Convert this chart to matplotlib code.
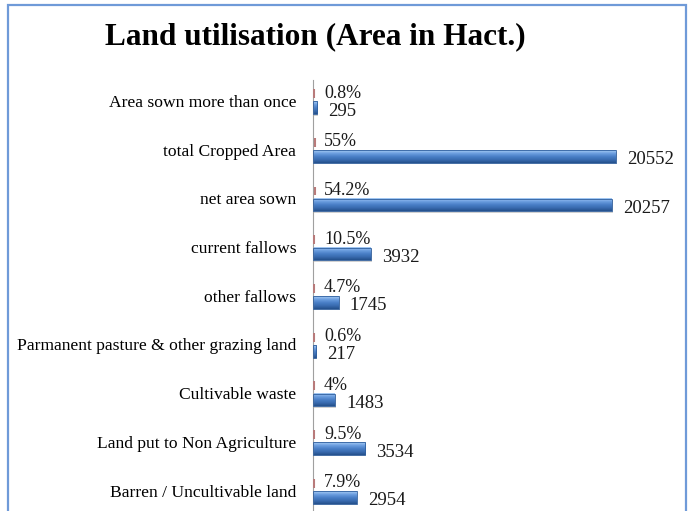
import matplotlib
matplotlib.use('Agg')
import numpy as np
import matplotlib.pyplot as plt
from matplotlib.patches import Rectangle
from matplotlib.colors import LinearSegmentedColormap

categories = ['Area sown more than once', 'total Cropped Area', 'net area sown',
              'current fallows', 'other fallows',
              'Parmanent pasture & other grazing land', 'Cultivable waste',
              'Land put to Non Agriculture', 'Barren / Uncultivable land']
areas = [295, 20552, 20257, 3932, 1745, 217, 1483, 3534, 2954]
pct = [0.8, 55, 54.2, 10.5, 4.7, 0.6, 4, 9.5, 7.9]
pct_labels = ['0.8%', '55%', '54.2%', '10.5%', '4.7%', '0.6%', '4%', '9.5%', '7.9%']

plt.rcParams['font.family'] = 'Liberation Serif'

W, H = 690, 511
fig = plt.figure(figsize=(W / 100, H / 100), dpi=100)

# blue chart frame
fig.patches.append(Rectangle((8 / W, -0.05), (686 - 8) / W, (H - 5) / H + 0.05,
                             transform=fig.transFigure, fill=False,
                             edgecolor='#6f9ad8', linewidth=1.6))

fig.text(315 / W, 1 - 37 / H, 'Land utilisation (Area in Hact.)',
         fontsize=22.5, fontweight='bold', ha='center', va='center')

# axes: top at y=80 px, category spacing ~48.7 px, runs past the bottom edge
step = 48.7
top, n_span = 80, 9.03
ax = fig.add_axes([313 / W, (H - top - n_span * step) / H,
                   (24000 * 303 / 20552) / W, n_span * step / H])

y = np.arange(len(categories))
h = 0.26
# percentage series is on the same scale, so its bars are only slivers
ax.barh(y - 0.15, pct, height=h * 0.7, color='#c0504d', linewidth=0)
ax.vlines(np.array(pct) + 80, y - 0.15 - h * 0.35, y - 0.15 + h * 0.35,
          color='#b87a7a', linewidth=1.5, zorder=3)

# shadow under the blue bars
ax.barh(y + 0.17, areas, height=h, left=60, color='#000000', alpha=0.18,
        linewidth=0)

# blue bars with a vertical gradient, like the 3D bars in the original
blue = LinearSegmentedColormap.from_list(
    'bev', ['#a9cdf5', '#6d9fe0', '#4a80c8', '#3a6cb0', '#24508c'])
grad = np.linspace(0, 1, 64).reshape(-1, 1)
for i in range(len(categories)):
    y0 = y[i] + 0.14 - h / 2
    ax.imshow(grad, cmap=blue, aspect='auto', interpolation='bilinear',
              extent=(0, areas[i], y0 + h, y0), zorder=2)
ax.barh(y + 0.14, areas, height=h, fill=False, edgecolor='#2f5f9e',
        linewidth=0.6, zorder=3)

for i in range(len(categories)):
    ax.annotate(pct_labels[i], (0, y[i] - 0.16), xytext=(8, 0),
                textcoords='offset points', fontsize=13, va='center',
                ha='left', color='#1a1a1a')
    ax.annotate(str(areas[i]), (areas[i], y[i] + 0.21), xytext=(8, 0),
                textcoords='offset points', fontsize=13.5, va='center',
                ha='left', color='#1a1a1a')

ax.set_xlim(0, 24000)
ax.set_ylim(-0.43 + n_span, -0.43)
ax.set_yticks(y)
ax.set_yticklabels(categories, fontsize=12.6)
ax.tick_params(axis='y', length=0, pad=12)
ax.set_xticks([])
for s in ['top', 'right', 'bottom']:
    ax.spines[s].set_visible(False)
ax.spines['left'].set_color('#a0a0a0')
ax.patch.set_alpha(0)

fig.savefig('out.png', dpi=100)
